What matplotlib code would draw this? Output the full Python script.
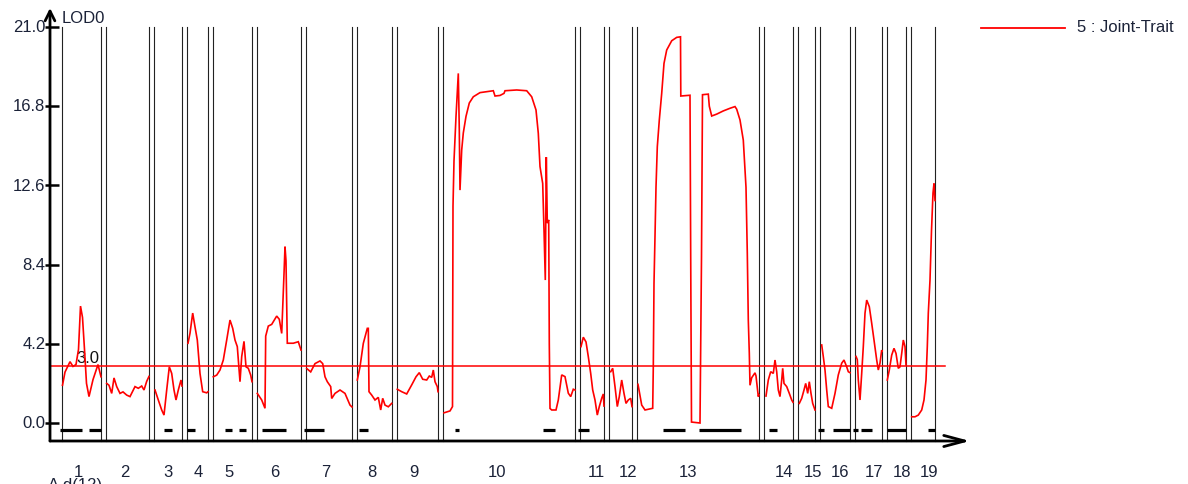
import matplotlib
matplotlib.use("Agg")
import matplotlib.pyplot as plt
import numpy as np

plt.rcParams['font.family'] = ['Liberation Sans', 'DejaVu Sans']

# ---------------- data ----------------
chrom_names = [str(i) for i in range(1, 20)]
chrom_lengths = [39, 43, 28, 21, 39, 44, 46, 35, 41, 132, 24, 23, 122, 29, 17, 30, 27, 19, 24]  # cM
chrom_gap = 5
y_ticks = [0.0, 4.2, 8.4, 12.6, 16.8, 21.0]
threshold = 3.0
series_label = "5 : Joint-Trait"
y_label = "LOD0"
x_label = "A d(12)"

c1_pos = [0.5, 3, 8, 11, 14, 16.5, 18.5, 20.5, 22.5, 24.5, 27, 31, 36, 39]
c1_lod = [2.0, 2.7, 3.25, 3.0, 3.1, 3.9, 6.2, 5.6, 3.9, 2.1, 1.4, 2.3, 3.1, 2.45]
c2_pos = [0.7, 3, 5.7, 8, 10.7, 14, 17, 20.7, 24, 29, 32.3, 35.7, 38, 40.7, 43]
c2_lod = [2.1, 2.0, 1.57, 2.39, 1.93, 1.57, 1.65, 1.48, 1.4, 1.93, 1.84, 1.96, 1.75, 2.21, 2.47]
c3_pos = [1, 4.3, 7.7, 10, 12.7, 15.3, 17.7, 20, 22, 24.3, 27, 28]
c3_lod = [1.75, 1.22, 0.69, 0.42, 1.75, 2.98, 2.63, 1.75, 1.22, 1.75, 2.28, 1.96]
c4_pos = [1, 3, 5.7, 8, 10.3, 13, 15.7, 19.7, 21]
c4_lod = [4.23, 4.76, 5.83, 5.1, 4.4, 2.63, 1.66, 1.6, 1.66]
c5_pos = [0.3, 3.7, 7, 10.3, 13.7, 17, 19.7, 22, 24.3, 27, 28.7, 31, 33, 35.3, 37.7, 39]
c5_lod = [2.45, 2.54, 2.81, 3.34, 4.4, 5.46, 5.02, 4.4, 4.05, 2.19, 3.52, 4.33, 2.98, 2.9, 2.54, 2.19]
c6_pos = [0.3, 4.7, 8, 8.7, 11.3, 14.7, 19.7, 22.3, 24.7, 27, 28, 29, 30.3, 36.3, 41.3, 44]
c6_lod = [1.57, 1.22, 0.78, 4.61, 5.14, 5.23, 5.67, 5.5, 4.75, 7.9, 9.35, 8.6, 4.23, 4.23, 4.31, 3.87]
c7_pos = [0.7, 4.7, 9, 14, 16.7, 19, 21.3, 24.7, 25.7, 29, 34, 39, 44, 46]
c7_lod = [2.89, 2.71, 3.15, 3.29, 3.15, 2.45, 2.19, 1.93, 1.3, 1.57, 1.75, 1.57, 0.95, 0.85]
c8_pos = [0.3, 3, 6.3, 10.3, 11.3, 12, 14.7, 18, 21.3, 23.7, 25.7, 28, 31.3, 34.7]
c8_lod = [2.28, 2.98, 4.22, 5.02, 5.02, 1.66, 1.48, 1.22, 1.36, 0.69, 1.31, 0.95, 0.86, 1.04]
c9_pos = [0.3, 4.7, 9.7, 14.7, 19, 22.3, 25.7, 29.7, 32.3, 34.7, 36.3, 38, 40.3, 41]
c9_lod = [1.79, 1.66, 1.54, 2.02, 2.45, 2.67, 2.32, 2.28, 2.49, 2.42, 2.81, 2.19, 1.93, 1.66]
c10_pos = [1, 7, 9.5, 10, 11, 13, 15.3, 16.3, 17, 18.7, 20.3, 23, 26.3, 30.3, 37, 43.7, 50.3,
           52, 57, 61, 62, 73.7, 83.7, 88.7, 93, 95.3, 97, 99.7, 101, 102.3, 103.3, 104.3,
           105.7, 106.3, 107, 108.7, 113, 115.3, 118.7, 122, 125.3, 127.7, 130.3, 132]
c10_lod = [0.54, 0.64, 0.87, 11.5, 13.9, 16.25, 18.54, 15.54, 12.35, 14.48, 15.38, 16.26, 16.97,
           17.3, 17.52, 17.57, 17.62, 17.34, 17.37, 17.48, 17.62, 17.66, 17.62, 17.3, 16.6,
           15.36, 13.6, 12.7, 10.23, 7.58, 14.1, 10.6, 10.77, 4.2, 0.77, 0.69, 0.69, 1.22,
           2.55, 2.46, 1.58, 1.4, 1.79, 1.75]
c11_pos = [1, 3.3, 6, 8.3, 10.7, 12.7, 15, 17.3, 19.3, 21.7, 23.3, 24]
c11_lod = [4.05, 4.55, 4.3, 3.52, 2.63, 1.75, 1.22, 0.42, 0.87, 1.31, 1.54, 0.9]
c12_pos = [1.7, 3.7, 6, 8.3, 10.3, 12.7, 15, 17, 19.3, 21.7, 23]
c12_lod = [2.72, 2.9, 1.93, 0.87, 1.4, 2.28, 1.57, 1.04, 1.22, 1.31, 0.87]
c13_pos = [1, 4.7, 8, 15.7, 16.3, 17, 18, 19, 20.3, 22.3, 24.7, 27, 29.7, 34.7, 39.7, 43.5,
           43.8, 53, 53.7, 54.5, 63, 64.5, 65.5, 71.3, 72.3, 74.7, 79.7, 86.3, 93, 98, 99.7,
           103, 106.3, 109, 110.3, 111.3, 112.3, 113, 114.7, 118, 119, 121.3, 122]
c13_lod = [2.05, 0.95, 0.69, 0.78, 2.98, 7.4, 9.9, 12.5, 14.65, 16.06, 17.48, 19.07, 19.78,
           20.27, 20.45, 20.48, 17.34, 17.38, 8.8, 0.05, 0.0, 8.8, 17.41, 17.44, 16.8, 16.28,
           16.38, 16.55, 16.69, 16.78, 16.64, 16.07, 15.0, 12.5, 9.0, 5.46, 3.71, 2.0, 2.4,
           2.66, 2.5, 1.4, 1.5]
c14_pos = [2, 4.3, 6.7, 9.3, 11, 12.7, 14.3, 16, 17.7, 18.7, 20, 22.7, 25.3, 27.7, 29]
c14_lod = [1.43, 2.28, 2.72, 2.63, 3.34, 2.72, 1.75, 1.4, 2.28, 2.9, 2.1, 1.93, 1.57, 1.22, 1.1]
c15_pos = [1.3, 3.7, 6, 7.7, 9.7, 11.3, 13, 14.7, 17]
c15_lod = [1.04, 1.31, 1.75, 2.1, 1.57, 2.19, 1.57, 1.04, 0.69]
c16_pos = [1.7, 3.3, 5, 6.7, 8.3, 11.7, 15, 18.3, 21.7, 24, 26.7, 28.3, 30]
c16_lod = [4.14, 3.52, 2.81, 1.75, 0.87, 0.78, 1.57, 2.55, 3.17, 3.34, 2.98, 2.72, 2.67]
c17_pos = [1, 2.3, 3.3, 5, 6.7, 8.3, 10, 11.7, 14.3, 16.7, 19, 21.7, 23.3, 25, 26.7, 27]
c17_lod = [3.53, 3.36, 2.28, 1.22, 2.63, 4.05, 5.82, 6.52, 6.17, 5.29, 4.4, 3.34, 2.81, 3.17, 3.87, 3.8]
c18_pos = [0.3, 2.3, 4.7, 7, 9, 11.3, 13, 14.7, 16.3, 18, 19]
c18_lod = [2.28, 2.81, 3.6, 3.96, 3.69, 2.9, 2.98, 3.69, 4.4, 4.05, 3.08]
c19_pos = [0.7, 4, 7.3, 10.7, 13, 15, 16.3, 17.3, 19, 20.5, 22, 23, 24]
c19_lod = [0.33, 0.33, 0.42, 0.69, 1.22, 2.28, 4.05, 5.82, 7.58, 10.2, 12.2, 12.7, 11.8]

chrom_pos = [c1_pos, c2_pos, c3_pos, c4_pos, c5_pos, c6_pos, c7_pos, c8_pos, c9_pos, c10_pos,
             c11_pos, c12_pos, c13_pos, c14_pos, c15_pos, c16_pos, c17_pos, c18_pos, c19_pos]
chrom_lod = [c1_lod, c2_lod, c3_lod, c4_lod, c5_lod, c6_lod, c7_lod, c8_lod, c9_lod, c10_lod,
             c11_lod, c12_lod, c13_lod, c14_lod, c15_lod, c16_lod, c17_lod, c18_lod, c19_lod]

# significant intervals (chromosome, start cM, end cM)
sig_chrom = [1, 1, 3, 4, 5, 5, 6, 7, 8, 10, 10, 11, 13, 13, 14, 16, 16, 17, 17, 18, 19]
sig_start = [-2, 27, 10, 0, 12, 26, 5, -2, 2, 12, 100, -2, 26, 62, 5, -2, 13, -2, 6, 0, 17]
sig_end = [20, 39, 18, 8, 19, 33, 29, 18, 11, 16, 112, 9, 48, 104, 13, 4, 30, 3, 17, 19, 24]

# chromosome label positions (genome cM)
chrom_label_pos = [16.3, 63, 106.3, 136.3, 167.3, 213, 264, 309.7, 352, 434.7, 534.7, 565.7,
                   626.3, 722.3, 750.7, 778, 812, 840.3, 866.7]

# ---------------- layout ----------------
W, H = 1188, 484
fig = plt.figure(figsize=(W / 100, H / 100), dpi=100)
ax = fig.add_axes([0, 0, 1, 1])
px_per_lod = 396 / 21.0
x0_px, y0_px = 62, 423
ax.set_xlim(-x0_px, W - x0_px)
ax.set_ylim((y0_px - H) / px_per_lod, y0_px / px_per_lod)
ax.axis('off')

def ypx(p):  # helper: pixel offset -> LOD units
    return p / px_per_lod

starts = np.concatenate([[0], np.cumsum(np.array(chrom_lengths[:-1]) + chrom_gap)])
ends = starts + np.array(chrom_lengths)

text_color = '#1b2238'
axis_y = -ypx(18)
axis_x = -12

# chromosome boundary lines
for s, e in zip(starts, ends):
    for xv in (s, e):
        ax.plot([xv, xv], [axis_y, y_ticks[-1]], color='#222222', lw=0.8, zorder=1)

# threshold
ax.plot([axis_x, ends[-1] + 10], [threshold, threshold], color='#ff0000', lw=1.1, zorder=2)
ax.text(14.7, threshold + ypx(3.2), f"{threshold:.1f}", fontsize=12, color='#111111',
        ha='left', va='baseline', zorder=3)

# LOD curves
for s, p, l in zip(starts, chrom_pos, chrom_lod):
    ax.plot(s + np.array(p), l, color='#ff0000', lw=1.2, zorder=3, solid_joinstyle='miter')

# significant segments
for c, a, b in zip(sig_chrom, sig_start, sig_end):
    s = starts[c - 1]
    ax.plot([s + a, s + b], [-ypx(7), -ypx(7)], color='black', lw=2.3, solid_capstyle='butt', zorder=3)

# axes with arrows
ax.annotate('', xy=(axis_x, y_ticks[-1] + ypx(19)), xytext=(axis_x, axis_y),
            arrowprops=dict(arrowstyle='->,head_length=0.7,head_width=0.35', lw=2.0,
                            color='black', shrinkA=0, shrinkB=0), zorder=4)
ax.annotate('', xy=(908, axis_y), xytext=(axis_x, axis_y),
            arrowprops=dict(arrowstyle='->,head_length=1.5,head_width=0.4', lw=2.0,
                            color='black', shrinkA=0, shrinkB=0), zorder=4)

# y ticks and labels
for v in y_ticks:
    ax.plot([axis_x - 5, axis_x + 9], [v, v], color='black', lw=1.8, zorder=4, solid_capstyle='butt')
    ax.text(axis_x - 4.5, v - ypx(5.3), f"{v:.1f}", fontsize=12, color=text_color,
            ha='right', va='baseline', zorder=5)

ax.text(0, y_ticks[-1] + ypx(3.7), y_label, fontsize=12, color=text_color, ha='left', va='baseline')

# chromosome labels
for name, xp in zip(chrom_names, chrom_label_pos):
    ax.text(xp, -ypx(54.3), name, fontsize=12, color=text_color, ha='center', va='baseline')

# partially visible axis caption at the bottom edge (as in the reference)
ax.text(-14, -ypx(67), x_label, fontsize=12, color=text_color, ha='left', va='baseline')

# legend
ax.plot([919, 1003], [y_ticks[-1] - ypx(1.3), y_ticks[-1] - ypx(1.3)], color='#ff0000', lw=1.3)
ax.text(1015, y_ticks[-1] - ypx(5), series_label, fontsize=12, color=text_color,
        ha='left', va='baseline')

fig.savefig('out.png', dpi=100)
